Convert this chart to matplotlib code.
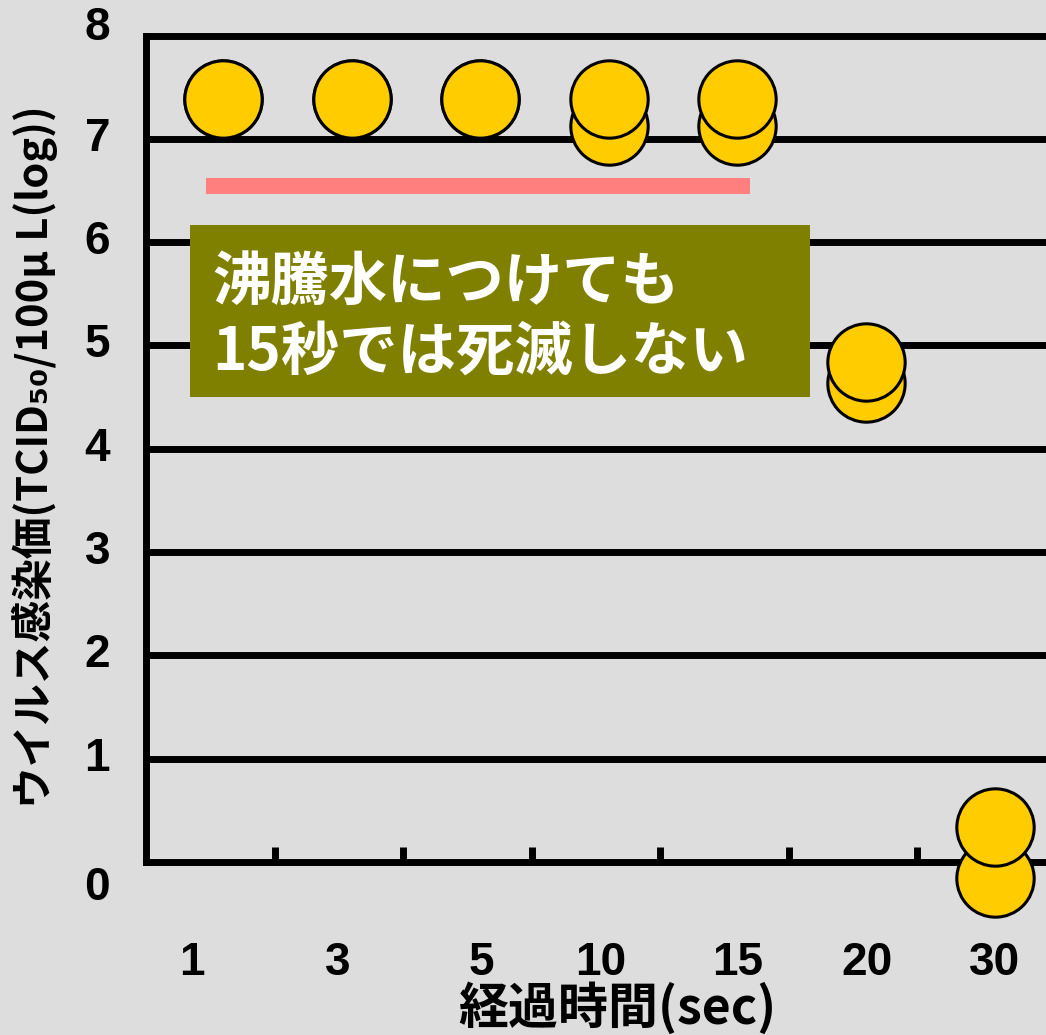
import numpy as np
import matplotlib.pyplot as plt
from matplotlib.patches import Rectangle

plt.rcParams['font.family'] = ['Noto Sans CJK JP', 'DejaVu Sans']

# 経過時間ごとのウイルス感染価（2回測定）
times = ['1', '3', '5', '10', '15', '20', '30']
titer_high = [7.39, 7.39, 7.39, 7.39, 7.39, 4.84, 0.34]
titer_low = [7.39, 7.39, 7.39, 7.12, 7.12, 4.64, -0.15]
y_ticks = [0, 1, 2, 3, 4, 5, 6, 7, 8]

# 検出限界の目安線
limit_x = [-0.03, 4.2]
limit_y = 6.54

note = '沸騰水につけても\n15秒では死滅しない'

bg = '#dddddd'
fig = plt.figure(figsize=(10.46, 10.35), dpi=100, facecolor=bg)
ax = fig.add_axes([0.1396, 0.1671, 0.8604, 0.7986], facecolor=bg)

x = np.arange(len(times)) + 0.1

ax.set_xlim(-0.5, len(times) - 0.5)
ax.set_ylim(0, 8)

# 横線
for v in y_ticks[1:-1]:
    ax.axhline(v, color='black', lw=5, zorder=1)

ax.plot(limit_x, [limit_y, limit_y], color='#ff7f7f', lw=11.5,
        solid_capstyle='butt', zorder=2)

ax.scatter(x, titer_low, s=3100, c='#ffcc00', edgecolors='black',
           linewidths=2.2, zorder=3, clip_on=False)
ax.scatter(x, titer_high, s=3100, c='#ffcc00', edgecolors='black',
           linewidths=2.2, zorder=4, clip_on=False)

# 注釈ボックス
ax.add_patch(Rectangle((-0.158, 4.50), 4.823, 1.667, facecolor='#808000',
                       edgecolor='none', zorder=5))
ax.text(0.013, 5.27, note, color='white', fontsize=42, fontweight='bold',
        va='center', ha='left', linespacing=1.22, zorder=6)

# 軸
ax.spines['right'].set_visible(False)
for side in ['left', 'bottom', 'top']:
    ax.spines[side].set_linewidth(5)
    ax.spines[side].set_color('black')

ax.set_xticks(np.arange(len(times) - 1) + 0.5)
ax.set_xticklabels([])
ax.tick_params(axis='x', direction='in', length=11, width=5, color='black')
ax.set_yticks([])

label_x = [-0.14, 0.99, 2.11, 3.04, 4.1, 5.11, 6.1]
for lx, t in zip(label_x, times):
    ax.text(lx, -0.98, t, ha='center', va='center', fontsize=33,
            fontweight='bold', family='Liberation Sans', clip_on=False)

for v in y_ticks:
    nudge = -0.25 if v == 0 else (0.07 if v == 8 else 0)
    ax.text(-0.78, v + nudge, str(v), ha='right', va='center', fontsize=33,
            fontweight='bold', family='Liberation Sans', clip_on=False)

fig.text(617 / 1046, 1 - 1008 / 1035, '経過時間(sec)', ha='center',
         va='center', fontsize=36, fontweight='bold')
fig.text(35 / 1046, 1 - 457 / 1035, 'ウイルス感染価(TCID₅₀/100μ L(log))',
         rotation=90, ha='center', va='center', fontsize=30,
         fontweight='bold')

fig.savefig('out.png', dpi=100, facecolor=bg)
